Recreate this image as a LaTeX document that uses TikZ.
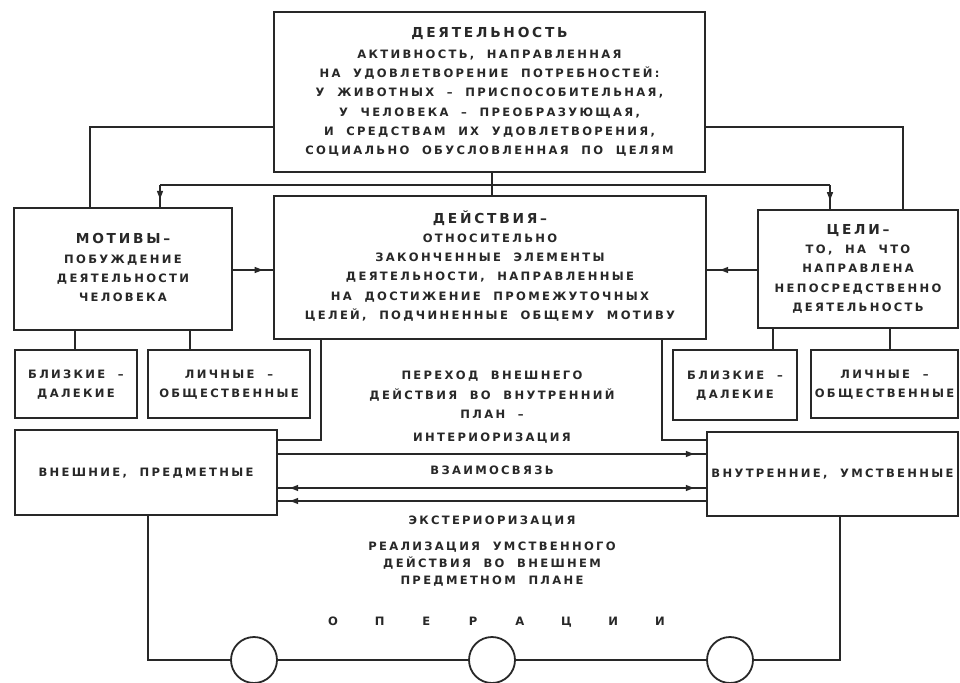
\documentclass[tikz,border=0pt]{standalone}
\usepackage{fontspec}
\usepackage{graphicx}
\newfontfamily\df{DejaVu Sans}[UprightFont={* Bold},LetterSpace=20,WordSpace=2]
\usetikzlibrary{arrows.meta,decorations.markings,calc}
\definecolor{ink}{RGB}{40,40,40}
\newcommand\dtitle[1]{{\fontsize{12.5}{17.5}\selectfont #1}}
\newcommand\boxtext[1]{\scalebox{1.1}{\begin{tabular}{@{}c@{}}#1\end{tabular}}}
\begin{document}
\begin{tikzpicture}[x=1pt,y=-1pt,
  box/.style={draw=ink,line width=2.7pt,fill=white,inner sep=0pt,text=ink,
    font=\df\fontsize{10.5}{17.5}\selectfont},
  txt/.style={inner sep=0pt,text=ink,font=\df\fontsize{10.5}{17.5}\selectfont},
  conn/.style={draw=ink,line width=1.6pt},
  fwd/.style={postaction={decorate,decoration={markings,mark=at position #1 with {\fill[ink] (1pt,0pt) -- (-7pt,3.2pt) -- (-7pt,-3.2pt) -- cycle;}}}},
  bwd/.style={postaction={decorate,decoration={markings,mark=at position #1 with {\fill[ink] (-1pt,0pt) -- (7pt,3.2pt) -- (7pt,-3.2pt) -- cycle;}}}},
  ring/.style={circle,draw=ink,line width=1.8pt,minimum size=46pt,inner sep=0pt}
]
\fill[white] (0,0) rectangle (960,682);
\useasboundingbox (0,0) rectangle (960,682);

% boxes
\node[box,minimum width=431pt,minimum height=160pt] (top) at (489.5,92)
  {\boxtext{\dtitle{ДЕЯТЕЛЬНОСТЬ}\\[2pt]
   АКТИВНОСТЬ, НАПРАВЛЕННАЯ\\
   НА УДОВЛЕТВОРЕНИЕ ПОТРЕБНОСТЕЙ:\\
   У ЖИВОТНЫХ – ПРИСПОСОБИТЕЛЬНАЯ,\\
   У ЧЕЛОВЕКА – ПРЕОБРАЗУЮЩАЯ,\\
   И СРЕДСТВАМ ИХ УДОВЛЕТВОРЕНИЯ,\\
   СОЦИАЛЬНО ОБУСЛОВЛЕННАЯ ПО ЦЕЛЯМ}};
\node[box,minimum width=218pt,minimum height=122pt] (mot) at (123,269)
  {\boxtext{\dtitle{МОТИВЫ–}\\ПОБУЖДЕНИЕ\\ДЕЯТЕЛЬНОСТИ\\ЧЕЛОВЕКА}};
\node[box,minimum width=432pt,minimum height=143pt] (act) at (490,267.5)
  {\boxtext{\dtitle{ДЕЙСТВИЯ–}\\ОТНОСИТЕЛЬНО\\ЗАКОНЧЕННЫЕ ЭЛЕМЕНТЫ\\ДЕЯТЕЛЬНОСТИ, НАПРАВЛЕННЫЕ\\НА ДОСТИЖЕНИЕ ПРОМЕЖУТОЧНЫХ\\ЦЕЛЕЙ, ПОДЧИНЕННЫЕ ОБЩЕМУ МОТИВУ}};
\node[box,minimum width=200pt,minimum height=118pt] (goal) at (858,269)
  {\boxtext{\dtitle{ЦЕЛИ–}\\ТО, НА ЧТО\\НАПРАВЛЕНА\\НЕПОСРЕДСТВЕННО\\ДЕЯТЕЛЬНОСТЬ}};
\node[box,minimum width=122pt,minimum height=68pt] (bl1) at (76,384) {\boxtext{БЛИЗКИЕ –\\ДАЛЕКИЕ}};
\node[box,minimum width=162pt,minimum height=68pt] (li1) at (229,384) {\boxtext{ЛИЧНЫЕ –\\ОБЩЕСТВЕННЫЕ}};
\node[box,minimum width=124pt,minimum height=70pt] (bl2) at (735,385) {\boxtext{БЛИЗКИЕ –\\ДАЛЕКИЕ}};
\node[box,minimum width=147pt,minimum height=68pt] (li2) at (884.5,384) {\boxtext{ЛИЧНЫЕ –\\ОБЩЕСТВЕННЫЕ}};
\node[box,minimum width=262pt,minimum height=85pt] (ext) at (146,472.5) {\boxtext{ВНЕШНИЕ, ПРЕДМЕТНЫЕ}};
\node[box,minimum width=251pt,minimum height=84pt] (int) at (832.5,474) {\boxtext{ВНУТРЕННИЕ, УМСТВЕННЫЕ}};

\node[ring] (c1) at (254,660) {};
\node[ring] (c2) at (492,660) {};
\node[ring] (c3) at (730,660) {};

% free texts
\node[txt] (inter) at (492,407) {\boxtext{ПЕРЕХОД ВНЕШНЕГО\\ДЕЙСТВИЯ ВО ВНУТРЕННИЙ\\ПЛАН –\\[4pt]ИНТЕРИОРИЗАЦИЯ}};
\node[txt] (vz) at (492,471) {\boxtext{ВЗАИМОСВЯЗЬ}};
\node[txt] (ex) at (492,521) {\boxtext{ЭКСТЕРИОРИЗАЦИЯ}};
\node[txt,font=\df\fontsize{10.5}{15.8}\selectfont] (real) at (492,564) {\boxtext{РЕАЛИЗАЦИЯ УМСТВЕННОГО\\ДЕЙСТВИЯ ВО ВНЕШНЕМ\\ПРЕДМЕТНОМ ПЛАНЕ}};
\foreach \l [count=\i] in {О,П,Е,Р,А,Ц,И,И}
  \node[txt] (op\i) at ({333+(\i-1)*46.7},622) {\boxtext{\l}};

% helper coordinates
\coordinate (yT) at (0,127);
\coordinate (yH) at (0,185);
\coordinate (yA) at (0,270);
\coordinate (yD) at (0,440);
\coordinate (y1) at (0,454);
\coordinate (y2) at (0,488);
\coordinate (y3) at (0,501);
\coordinate (xL) at (90,0);
\coordinate (xR) at (903,0);
\coordinate (xM) at (492,0);
\coordinate (xa) at (160,0);
\coordinate (xb) at (830,0);
\coordinate (xs1) at (75,0);
\coordinate (xs2) at (190,0);
\coordinate (xs3) at (773,0);
\coordinate (xs4) at (890,0);
\coordinate (xd1) at (321,0);
\coordinate (xd2) at (662,0);
\coordinate (xo1) at (148,0);
\coordinate (xo2) at (840,0);
\coordinate (hL) at (xa |- yH);
\coordinate (hR) at (xb |- yH);

% connectors
\draw[conn] (top.west |- yT) -| (mot.north -| xL);
\draw[conn] (top.east |- yT) -| (goal.north -| xR);
\draw[conn] (top.south -| xM) -- (act.north -| xM);
\draw[conn] (hL) -- (hR);
\draw[conn,fwd=0.6] (hL) -- (mot.north -| xa);
\draw[conn,fwd=0.6] (hR) -- (goal.north -| xb);
\draw[conn,fwd=0.72] (mot.east |- yA) -- (act.west |- yA);
\draw[conn,fwd=0.72] (goal.west |- yA) -- (act.east |- yA);
\draw[conn] (mot.south -| xs1) -- (bl1.north -| xs1);
\draw[conn] (mot.south -| xs2) -- (li1.north -| xs2);
\draw[conn] (goal.south -| xs3) -- (bl2.north -| xs3);
\draw[conn] (goal.south -| xs4) -- (li2.north -| xs4);
\draw[conn] (act.south -| xd1) |- (ext.east |- yD);
\draw[conn] (act.south -| xd2) |- (int.west |- yD);
\draw[conn,fwd=0.97] (ext.east |- y1) -- (int.west |- y1);
\draw[conn,fwd=0.97,bwd=0.03] (ext.east |- y2) -- (int.west |- y2);
\draw[conn,bwd=0.03] (ext.east |- y3) -- (int.west |- y3);
\draw[conn] (ext.south -| xo1) |- (c1.west);
\draw[conn] (c1.east) -- (c2.west);
\draw[conn] (c2.east) -- (c3.west);
\draw[conn] (c3.east) -| (int.south -| xo2);
\end{tikzpicture}
\end{document}
